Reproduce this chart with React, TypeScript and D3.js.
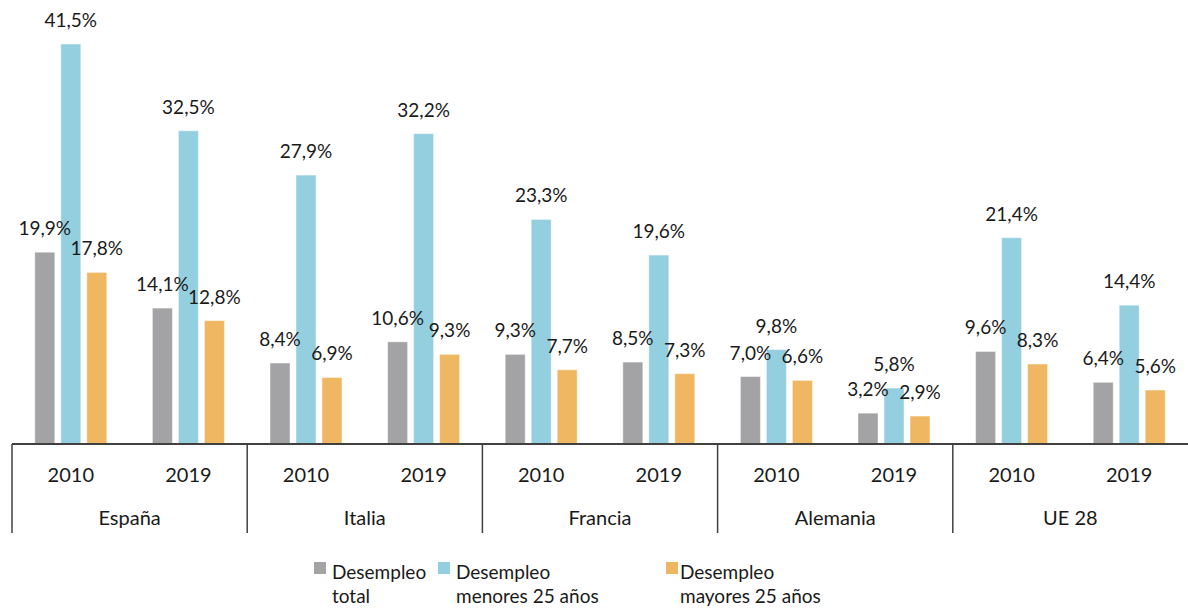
import { useRef, useEffect } from "react";
import * as d3 from "d3";

// ---------------- data
const countries = ["España", "Italia", "Francia", "Alemania", "UE 28"];
const years = ["2010", "2019"];
const seriesNames = ["Desempleo total", "Desempleo menores 25 años", "Desempleo mayores 25 años"];
const legendLines = [["Desempleo", "total"], ["Desempleo", "menores 25 años"], ["Desempleo", "mayores 25 años"]];

// values by country, year order 2010, 2019
const total = [[19.9, 14.1], [8.4, 10.6], [9.3, 8.5], [7.0, 3.2], [9.6, 6.4]];
const menores = [[41.5, 32.5], [27.9, 32.2], [23.3, 19.6], [9.8, 5.8], [21.4, 14.4]];
const mayores = [[17.8, 12.8], [6.9, 9.3], [7.7, 7.3], [6.6, 2.9], [8.3, 5.6]];

const colors = ["#a3a3a6", "#94cfdf", "#f0b762"];

const width = 1188;
const height = 608;
const font = "Lato, 'Open Sans', sans-serif";

const Chart = () => {
    const ref = useRef<SVGSVGElement>(null);

    useEffect(() => {
        const svg = d3.select(ref.current);
        svg.selectAll("*").remove();

        const baseY = 444;
        const x0 = d3.scaleBand().domain(countries).range([12, 1188]);
        const x1 = d3.scaleBand().domain(years).range([0, x0.bandwidth()]);
        const x2 = d3.scaleBand().domain(seriesNames).range([-36, 36]).paddingInner(0.23);
        const y = d3.scaleLinear().domain([0, 41.5]).range([baseY, 44]);

        const all = [total, menores, mayores];
        const rows: { c: string; yr: string; s: string; v: number; i: number }[] = [];
        countries.forEach((c, ci) => {
            years.forEach((yr, yi) => {
                seriesNames.forEach((s, si) => {
                    rows.push({ c, yr, s, v: all[si][ci][yi], i: si });
                });
            });
        });

        const cx = (d: { c: string; yr: string }) =>
            (x0(d.c) as number) + (x1(d.yr) as number) + x1.bandwidth() / 2;

        // ------------- bars
        svg.append("g")
            .selectAll("rect")
            .data(rows)
            .join("rect")
            .attr("x", d => cx(d) + (x2(d.s) as number))
            .attr("width", x2.bandwidth())
            .attr("y", d => y(d.v))
            .attr("height", d => baseY - y(d.v))
            .attr("fill", d => colors[d.i])
            .attr("stroke", "#ffffff")
            .attr("stroke-opacity", 0.45)
            .attr("stroke-width", 1);

        // ------------- value labels
        svg.append("g")
            .selectAll("text")
            .data(rows)
            .join("text")
            .attr("x", d => cx(d) + (x2(d.s) as number) + x2.bandwidth() / 2)
            .attr("y", d => y(d.v) - 17)
            .attr("text-anchor", "middle")
            .attr("font-family", font)
            .attr("font-size", 19)
            .attr("fill", "#1a1a1a")
            .text(d => d3.format(".1f")(d.v).replace(".", ",") + "%");

        // ------------- axis
        const axis = svg.append("g");
        axis.append("line")
            .attr("x1", 12).attr("x2", 1188)
            .attr("y1", baseY).attr("y2", baseY)
            .attr("stroke", "#404040").attr("stroke-width", 2);

        axis.selectAll("line.sep")
            .data(countries)
            .join("line")
            .attr("class", "sep")
            .attr("x1", d => x0(d) as number).attr("x2", d => x0(d) as number)
            .attr("y1", baseY).attr("y2", 533)
            .attr("stroke", "#404040").attr("stroke-width", 1.5);

        countries.forEach(c => {
            years.forEach(yr => {
                axis.append("text")
                    .attr("x", cx({ c, yr }))
                    .attr("y", 482)
                    .attr("text-anchor", "middle")
                    .attr("font-family", font)
                    .attr("font-size", 20)
                    .attr("fill", "#1a1a1a")
                    .text(yr);
            });
            axis.append("text")
                .attr("x", (x0(c) as number) + x0.bandwidth() / 2)
                .attr("y", 525)
                .attr("text-anchor", "middle")
                .attr("font-family", font)
                .attr("font-size", 20)
                .attr("fill", "#1a1a1a")
                .text(c);
        });

        // ------------- legend
        const legendX = [314, 438, 666];
        const legend = svg.append("g");
        seriesNames.forEach((s, i) => {
            legend.append("rect")
                .attr("x", legendX[i]).attr("y", 562)
                .attr("width", 12).attr("height", 12)
                .attr("fill", colors[i]);
            const t = legend.append("text")
                .attr("font-family", font)
                .attr("font-size", 19)
                .attr("fill", "#1a1a1a");
            legendLines[i].forEach((line, li) => {
                t.append("tspan")
                    .attr("x", legendX[i] + (i === 2 ? 14 : 18))
                    .attr("y", 579 + li * 24)
                    .text(line);
            });
        });
    }, []);

    return (
        <svg ref={ref} width={width} height={height}
            style={{ position: "absolute", left: 0, top: 0, background: "#ffffff" }} />
    );
};

export default function App() {
    return <Chart />;
}
